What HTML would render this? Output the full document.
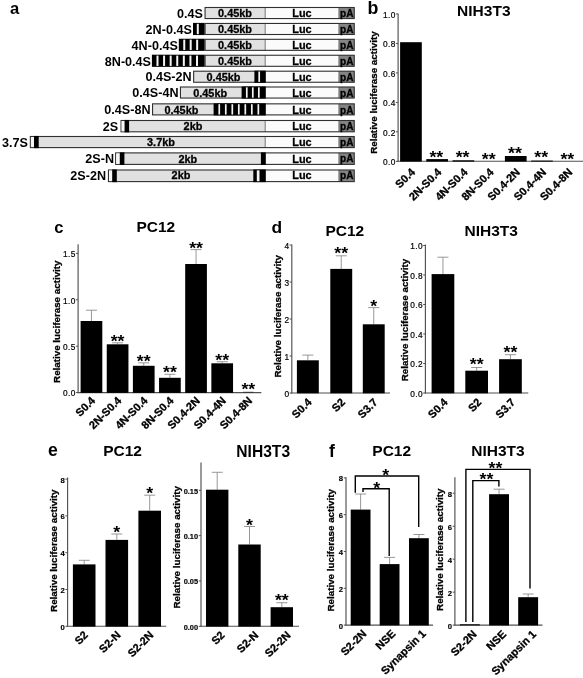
<!DOCTYPE html>
<html lang="en">
<head>
<meta charset="utf-8">
<title>Figure</title>
<style>
html, body { margin: 0; padding: 0; background: #ffffff; }
body { width: 583px; height: 678px; overflow: hidden; }
svg { display: block; }
svg text { font-family: "Liberation Sans", Arial, Helvetica, sans-serif; }
</style>
</head>
<body>
<svg width="583" height="678" viewBox="0 0 583 678">
<rect x="0" y="0" width="583" height="678" fill="#ffffff"/>
<text x="10.00" y="13.70" font-size="16.6" font-weight="bold" text-anchor="start" fill="#000">a</text>
<rect x="205.00" y="7.45" width="60.20" height="11.15" fill="#e1e1e1"/>
<rect x="265.20" y="7.45" width="73.60" height="11.15" fill="#fbfbfb"/>
<rect x="338.80" y="7.45" width="15.50" height="11.15" fill="#858585"/>
<line x1="265.20" y1="7.45" x2="265.20" y2="18.60" stroke="#555" stroke-width="0.8"/>
<line x1="338.80" y1="7.45" x2="338.80" y2="18.60" stroke="#5a5a5a" stroke-width="0.6"/>
<rect x="205.05" y="7.50" width="149.20" height="11.05" fill="none" stroke="#303030" stroke-width="1.1"/>
<text x="203.00" y="17.75" font-size="12.6" font-weight="bold" text-anchor="end" fill="#000">0.4S</text>
<text x="302.00" y="17.30" font-size="10.9" font-weight="bold" text-anchor="middle" fill="#000" stroke="#000" stroke-width="0.3">Luc</text>
<text x="346.70" y="17.15" font-size="10.3" font-weight="bold" text-anchor="middle" fill="#000" textLength="13.40" lengthAdjust="spacingAndGlyphs" stroke="#000" stroke-width="0.3">pA</text>
<text x="235.00" y="17.30" font-size="10.9" font-weight="bold" text-anchor="middle" fill="#000" stroke="#000" stroke-width="0.3">0.45kb</text>
<rect x="205.00" y="23.40" width="60.20" height="11.15" fill="#e1e1e1"/>
<rect x="265.20" y="23.40" width="73.60" height="11.15" fill="#fbfbfb"/>
<rect x="338.80" y="23.40" width="15.50" height="11.15" fill="#858585"/>
<line x1="265.20" y1="23.40" x2="265.20" y2="34.55" stroke="#555" stroke-width="0.8"/>
<line x1="338.80" y1="23.40" x2="338.80" y2="34.55" stroke="#5a5a5a" stroke-width="0.6"/>
<rect x="205.05" y="23.45" width="149.20" height="11.05" fill="none" stroke="#303030" stroke-width="1.1"/>
<rect x="193.00" y="22.90" width="11.60" height="12.15" fill="#000"/>
<rect x="196.80" y="23.80" width="2.00" height="10.35" fill="#f4f4f4"/>
<text x="191.80" y="33.70" font-size="12.6" font-weight="bold" text-anchor="end" fill="#000">2N-0.4S</text>
<text x="302.00" y="33.25" font-size="10.9" font-weight="bold" text-anchor="middle" fill="#000" stroke="#000" stroke-width="0.3">Luc</text>
<text x="346.70" y="33.10" font-size="10.3" font-weight="bold" text-anchor="middle" fill="#000" textLength="13.40" lengthAdjust="spacingAndGlyphs" stroke="#000" stroke-width="0.3">pA</text>
<text x="235.00" y="33.25" font-size="10.9" font-weight="bold" text-anchor="middle" fill="#000" stroke="#000" stroke-width="0.3">0.45kb</text>
<rect x="205.00" y="39.25" width="60.20" height="11.15" fill="#e1e1e1"/>
<rect x="265.20" y="39.25" width="73.60" height="11.15" fill="#fbfbfb"/>
<rect x="338.80" y="39.25" width="15.50" height="11.15" fill="#858585"/>
<line x1="265.20" y1="39.25" x2="265.20" y2="50.40" stroke="#555" stroke-width="0.8"/>
<line x1="338.80" y1="39.25" x2="338.80" y2="50.40" stroke="#5a5a5a" stroke-width="0.6"/>
<rect x="205.05" y="39.30" width="149.20" height="11.05" fill="none" stroke="#303030" stroke-width="1.1"/>
<rect x="178.80" y="38.75" width="25.80" height="12.15" fill="#000"/>
<rect x="183.25" y="39.65" width="2.00" height="10.35" fill="#f4f4f4"/>
<rect x="189.70" y="39.65" width="2.00" height="10.35" fill="#f4f4f4"/>
<rect x="196.15" y="39.65" width="2.00" height="10.35" fill="#f4f4f4"/>
<text x="177.80" y="49.55" font-size="12.6" font-weight="bold" text-anchor="end" fill="#000">4N-0.4S</text>
<text x="302.00" y="49.10" font-size="10.9" font-weight="bold" text-anchor="middle" fill="#000" stroke="#000" stroke-width="0.3">Luc</text>
<text x="346.70" y="48.95" font-size="10.3" font-weight="bold" text-anchor="middle" fill="#000" textLength="13.40" lengthAdjust="spacingAndGlyphs" stroke="#000" stroke-width="0.3">pA</text>
<text x="235.00" y="49.10" font-size="10.9" font-weight="bold" text-anchor="middle" fill="#000" stroke="#000" stroke-width="0.3">0.45kb</text>
<rect x="205.00" y="55.20" width="60.20" height="11.15" fill="#e1e1e1"/>
<rect x="265.20" y="55.20" width="73.60" height="11.15" fill="#fbfbfb"/>
<rect x="338.80" y="55.20" width="15.50" height="11.15" fill="#858585"/>
<line x1="265.20" y1="55.20" x2="265.20" y2="66.35" stroke="#555" stroke-width="0.8"/>
<line x1="338.80" y1="55.20" x2="338.80" y2="66.35" stroke="#5a5a5a" stroke-width="0.6"/>
<rect x="205.05" y="55.25" width="149.20" height="11.05" fill="none" stroke="#303030" stroke-width="1.1"/>
<rect x="151.90" y="54.70" width="52.70" height="12.15" fill="#000"/>
<rect x="156.49" y="55.60" width="2.00" height="10.35" fill="#f4f4f4"/>
<rect x="163.07" y="55.60" width="2.00" height="10.35" fill="#f4f4f4"/>
<rect x="169.66" y="55.60" width="2.00" height="10.35" fill="#f4f4f4"/>
<rect x="176.25" y="55.60" width="2.00" height="10.35" fill="#f4f4f4"/>
<rect x="182.84" y="55.60" width="2.00" height="10.35" fill="#f4f4f4"/>
<rect x="189.43" y="55.60" width="2.00" height="10.35" fill="#f4f4f4"/>
<rect x="196.01" y="55.60" width="2.00" height="10.35" fill="#f4f4f4"/>
<text x="151.00" y="65.50" font-size="12.6" font-weight="bold" text-anchor="end" fill="#000">8N-0.4S</text>
<text x="302.00" y="65.05" font-size="10.9" font-weight="bold" text-anchor="middle" fill="#000" stroke="#000" stroke-width="0.3">Luc</text>
<text x="346.70" y="64.90" font-size="10.3" font-weight="bold" text-anchor="middle" fill="#000" textLength="13.40" lengthAdjust="spacingAndGlyphs" stroke="#000" stroke-width="0.3">pA</text>
<text x="235.00" y="65.05" font-size="10.9" font-weight="bold" text-anchor="middle" fill="#000" stroke="#000" stroke-width="0.3">0.45kb</text>
<rect x="193.60" y="71.15" width="71.60" height="11.15" fill="#e1e1e1"/>
<rect x="265.20" y="71.15" width="73.60" height="11.15" fill="#fbfbfb"/>
<rect x="338.80" y="71.15" width="15.50" height="11.15" fill="#858585"/>
<line x1="265.20" y1="71.15" x2="265.20" y2="82.30" stroke="#555" stroke-width="0.8"/>
<line x1="338.80" y1="71.15" x2="338.80" y2="82.30" stroke="#5a5a5a" stroke-width="0.6"/>
<rect x="193.65" y="71.20" width="160.60" height="11.05" fill="none" stroke="#303030" stroke-width="1.1"/>
<rect x="254.40" y="70.65" width="11.30" height="12.15" fill="#000"/>
<rect x="258.35" y="71.55" width="1.70" height="10.35" fill="#f4f4f4"/>
<text x="191.60" y="81.45" font-size="12.6" font-weight="bold" text-anchor="end" fill="#000">0.4S-2N</text>
<text x="302.00" y="81.00" font-size="10.9" font-weight="bold" text-anchor="middle" fill="#000" stroke="#000" stroke-width="0.3">Luc</text>
<text x="346.70" y="80.85" font-size="10.3" font-weight="bold" text-anchor="middle" fill="#000" textLength="13.40" lengthAdjust="spacingAndGlyphs" stroke="#000" stroke-width="0.3">pA</text>
<text x="223.50" y="81.00" font-size="10.9" font-weight="bold" text-anchor="middle" fill="#000" stroke="#000" stroke-width="0.3">0.45kb</text>
<rect x="180.40" y="86.95" width="84.80" height="11.15" fill="#e1e1e1"/>
<rect x="265.20" y="86.95" width="73.60" height="11.15" fill="#fbfbfb"/>
<rect x="338.80" y="86.95" width="15.50" height="11.15" fill="#858585"/>
<line x1="265.20" y1="86.95" x2="265.20" y2="98.10" stroke="#555" stroke-width="0.8"/>
<line x1="338.80" y1="86.95" x2="338.80" y2="98.10" stroke="#5a5a5a" stroke-width="0.6"/>
<rect x="180.45" y="87.00" width="173.80" height="11.05" fill="none" stroke="#303030" stroke-width="1.1"/>
<rect x="241.60" y="86.45" width="24.10" height="12.15" fill="#000"/>
<rect x="245.93" y="87.35" width="1.70" height="10.35" fill="#f4f4f4"/>
<rect x="251.95" y="87.35" width="1.70" height="10.35" fill="#f4f4f4"/>
<rect x="257.98" y="87.35" width="1.70" height="10.35" fill="#f4f4f4"/>
<text x="178.50" y="97.25" font-size="12.6" font-weight="bold" text-anchor="end" fill="#000">0.4S-4N</text>
<text x="302.00" y="96.80" font-size="10.9" font-weight="bold" text-anchor="middle" fill="#000" stroke="#000" stroke-width="0.3">Luc</text>
<text x="346.70" y="96.65" font-size="10.3" font-weight="bold" text-anchor="middle" fill="#000" textLength="13.40" lengthAdjust="spacingAndGlyphs" stroke="#000" stroke-width="0.3">pA</text>
<text x="210.20" y="96.80" font-size="10.9" font-weight="bold" text-anchor="middle" fill="#000" stroke="#000" stroke-width="0.3">0.45kb</text>
<rect x="152.50" y="103.80" width="112.70" height="11.15" fill="#e1e1e1"/>
<rect x="265.20" y="103.80" width="73.60" height="11.15" fill="#fbfbfb"/>
<rect x="338.80" y="103.80" width="15.50" height="11.15" fill="#858585"/>
<line x1="265.20" y1="103.80" x2="265.20" y2="114.95" stroke="#555" stroke-width="0.8"/>
<line x1="338.80" y1="103.80" x2="338.80" y2="114.95" stroke="#5a5a5a" stroke-width="0.6"/>
<rect x="152.55" y="103.85" width="201.70" height="11.05" fill="none" stroke="#303030" stroke-width="1.1"/>
<rect x="213.60" y="103.30" width="52.10" height="12.15" fill="#000"/>
<rect x="218.41" y="104.20" width="1.70" height="10.35" fill="#f4f4f4"/>
<rect x="224.93" y="104.20" width="1.70" height="10.35" fill="#f4f4f4"/>
<rect x="231.44" y="104.20" width="1.70" height="10.35" fill="#f4f4f4"/>
<rect x="237.95" y="104.20" width="1.70" height="10.35" fill="#f4f4f4"/>
<rect x="244.46" y="104.20" width="1.70" height="10.35" fill="#f4f4f4"/>
<rect x="250.97" y="104.20" width="1.70" height="10.35" fill="#f4f4f4"/>
<rect x="257.49" y="104.20" width="1.70" height="10.35" fill="#f4f4f4"/>
<text x="150.50" y="114.10" font-size="12.6" font-weight="bold" text-anchor="end" fill="#000">0.4S-8N</text>
<text x="302.00" y="113.65" font-size="10.9" font-weight="bold" text-anchor="middle" fill="#000" stroke="#000" stroke-width="0.3">Luc</text>
<text x="346.70" y="113.50" font-size="10.3" font-weight="bold" text-anchor="middle" fill="#000" textLength="13.40" lengthAdjust="spacingAndGlyphs" stroke="#000" stroke-width="0.3">pA</text>
<text x="181.40" y="113.65" font-size="10.9" font-weight="bold" text-anchor="middle" fill="#000" stroke="#000" stroke-width="0.3">0.45kb</text>
<rect x="121.00" y="120.45" width="144.20" height="11.40" fill="#e1e1e1"/>
<rect x="265.20" y="120.45" width="73.60" height="11.40" fill="#fbfbfb"/>
<rect x="338.80" y="120.45" width="15.50" height="11.40" fill="#858585"/>
<line x1="265.20" y1="120.45" x2="265.20" y2="131.85" stroke="#555" stroke-width="0.8"/>
<line x1="338.80" y1="120.45" x2="338.80" y2="131.85" stroke="#5a5a5a" stroke-width="0.6"/>
<rect x="121.05" y="120.50" width="233.20" height="11.30" fill="none" stroke="#303030" stroke-width="1.1"/>
<rect x="121.60" y="121.05" width="3.00" height="10.20" fill="#f6f6f6"/>
<rect x="124.60" y="119.95" width="4.50" height="12.40" fill="#000"/>
<text x="118.20" y="130.75" font-size="12.6" font-weight="bold" text-anchor="end" fill="#000">2S</text>
<text x="302.00" y="130.30" font-size="10.9" font-weight="bold" text-anchor="middle" fill="#000" stroke="#000" stroke-width="0.3">Luc</text>
<text x="346.70" y="130.15" font-size="10.3" font-weight="bold" text-anchor="middle" fill="#000" textLength="13.40" lengthAdjust="spacingAndGlyphs" stroke="#000" stroke-width="0.3">pA</text>
<text x="193.00" y="130.30" font-size="10.9" font-weight="bold" text-anchor="middle" fill="#000" stroke="#000" stroke-width="0.3">2kb</text>
<rect x="30.30" y="136.45" width="234.90" height="11.20" fill="#e1e1e1"/>
<rect x="265.20" y="136.45" width="73.60" height="11.20" fill="#fbfbfb"/>
<rect x="338.80" y="136.45" width="15.50" height="11.20" fill="#858585"/>
<line x1="265.20" y1="136.45" x2="265.20" y2="147.65" stroke="#555" stroke-width="0.8"/>
<line x1="338.80" y1="136.45" x2="338.80" y2="147.65" stroke="#5a5a5a" stroke-width="0.6"/>
<rect x="30.35" y="136.50" width="323.90" height="11.10" fill="none" stroke="#303030" stroke-width="1.1"/>
<rect x="30.90" y="137.05" width="3.10" height="10.00" fill="#f6f6f6"/>
<rect x="34.00" y="135.95" width="4.70" height="12.20" fill="#000"/>
<text x="28.00" y="146.75" font-size="12.6" font-weight="bold" text-anchor="end" fill="#000">3.7S</text>
<text x="302.00" y="146.30" font-size="10.9" font-weight="bold" text-anchor="middle" fill="#000" stroke="#000" stroke-width="0.3">Luc</text>
<text x="346.70" y="146.15" font-size="10.3" font-weight="bold" text-anchor="middle" fill="#000" textLength="13.40" lengthAdjust="spacingAndGlyphs" stroke="#000" stroke-width="0.3">pA</text>
<text x="161.00" y="146.30" font-size="10.9" font-weight="bold" text-anchor="middle" fill="#000" stroke="#000" stroke-width="0.3">3.7kb</text>
<rect x="115.60" y="152.85" width="149.60" height="11.60" fill="#e1e1e1"/>
<rect x="265.20" y="152.85" width="73.60" height="11.60" fill="#fbfbfb"/>
<rect x="338.80" y="152.85" width="15.50" height="11.60" fill="#858585"/>
<line x1="265.20" y1="152.85" x2="265.20" y2="164.45" stroke="#555" stroke-width="0.8"/>
<line x1="338.80" y1="152.85" x2="338.80" y2="164.45" stroke="#5a5a5a" stroke-width="0.6"/>
<rect x="115.65" y="152.90" width="238.60" height="11.50" fill="none" stroke="#303030" stroke-width="1.1"/>
<rect x="116.20" y="153.45" width="3.60" height="10.40" fill="#f6f6f6"/>
<rect x="119.80" y="152.35" width="4.60" height="12.60" fill="#000"/>
<rect x="260.90" y="152.35" width="4.80" height="12.60" fill="#000"/>
<text x="114.00" y="163.05" font-size="12.6" font-weight="bold" text-anchor="end" fill="#000">2S-N</text>
<text x="302.00" y="162.60" font-size="10.9" font-weight="bold" text-anchor="middle" fill="#000" stroke="#000" stroke-width="0.3">Luc</text>
<text x="346.70" y="162.45" font-size="10.3" font-weight="bold" text-anchor="middle" fill="#000" textLength="13.40" lengthAdjust="spacingAndGlyphs" stroke="#000" stroke-width="0.3">pA</text>
<text x="187.80" y="162.60" font-size="10.9" font-weight="bold" text-anchor="middle" fill="#000" stroke="#000" stroke-width="0.3">2kb</text>
<rect x="108.40" y="169.95" width="156.80" height="11.70" fill="#e1e1e1"/>
<rect x="265.20" y="169.95" width="73.60" height="11.70" fill="#fbfbfb"/>
<rect x="338.80" y="169.95" width="15.50" height="11.70" fill="#858585"/>
<line x1="265.20" y1="169.95" x2="265.20" y2="181.65" stroke="#555" stroke-width="0.8"/>
<line x1="338.80" y1="169.95" x2="338.80" y2="181.65" stroke="#5a5a5a" stroke-width="0.6"/>
<rect x="108.45" y="170.00" width="245.80" height="11.60" fill="none" stroke="#303030" stroke-width="1.1"/>
<rect x="109.00" y="170.55" width="3.20" height="10.50" fill="#f6f6f6"/>
<rect x="112.20" y="169.45" width="4.60" height="12.70" fill="#000"/>
<rect x="253.30" y="169.45" width="12.40" height="12.70" fill="#000"/>
<rect x="256.80" y="170.35" width="2.70" height="10.90" fill="#f4f4f4"/>
<text x="106.00" y="179.85" font-size="12.6" font-weight="bold" text-anchor="end" fill="#000">2S-2N</text>
<text x="302.00" y="179.40" font-size="10.9" font-weight="bold" text-anchor="middle" fill="#000" stroke="#000" stroke-width="0.3">Luc</text>
<text x="346.70" y="179.25" font-size="10.3" font-weight="bold" text-anchor="middle" fill="#000" textLength="13.40" lengthAdjust="spacingAndGlyphs" stroke="#000" stroke-width="0.3">pA</text>
<text x="181.00" y="179.40" font-size="10.9" font-weight="bold" text-anchor="middle" fill="#000" stroke="#000" stroke-width="0.3">2kb</text>
<text x="367.40" y="13.80" font-size="17.8" font-weight="bold" text-anchor="start" fill="#000">b</text>
<text x="483.80" y="16.10" font-size="15.5" font-weight="bold" text-anchor="middle" fill="#000">NIH3T3</text>
<line x1="398.10" y1="13.40" x2="398.10" y2="161.80" stroke="#505050" stroke-width="1.15"/>
<line x1="397.60" y1="161.30" x2="583.00" y2="161.30" stroke="#505050" stroke-width="1.1"/>
<line x1="395.90" y1="161.30" x2="398.10" y2="161.30" stroke="#505050" stroke-width="1"/>
<text x="395.85" y="165.10" font-size="8.3" font-weight="normal" text-anchor="end" fill="#000" letter-spacing="0.45" stroke="#000" stroke-width="0.2">0.0</text>
<line x1="395.90" y1="131.84" x2="398.10" y2="131.84" stroke="#505050" stroke-width="1"/>
<text x="395.85" y="135.64" font-size="8.3" font-weight="normal" text-anchor="end" fill="#000" letter-spacing="0.45" stroke="#000" stroke-width="0.2">0.2</text>
<line x1="395.90" y1="102.38" x2="398.10" y2="102.38" stroke="#505050" stroke-width="1"/>
<text x="395.85" y="106.18" font-size="8.3" font-weight="normal" text-anchor="end" fill="#000" letter-spacing="0.45" stroke="#000" stroke-width="0.2">0.4</text>
<line x1="395.90" y1="72.92" x2="398.10" y2="72.92" stroke="#505050" stroke-width="1"/>
<text x="395.85" y="76.72" font-size="8.3" font-weight="normal" text-anchor="end" fill="#000" letter-spacing="0.45" stroke="#000" stroke-width="0.2">0.6</text>
<line x1="395.90" y1="43.46" x2="398.10" y2="43.46" stroke="#505050" stroke-width="1"/>
<text x="395.85" y="47.26" font-size="8.3" font-weight="normal" text-anchor="end" fill="#000" letter-spacing="0.45" stroke="#000" stroke-width="0.2">0.8</text>
<line x1="395.90" y1="14.00" x2="398.10" y2="14.00" stroke="#505050" stroke-width="1"/>
<text x="395.85" y="17.80" font-size="8.3" font-weight="normal" text-anchor="end" fill="#000" letter-spacing="0.45" stroke="#000" stroke-width="0.2">1.0</text>
<rect x="400.10" y="42.20" width="21.70" height="119.40" fill="#000"/>
<text x="0" y="0" transform="translate(415.85 172.80) rotate(-45)" font-size="11.0" font-weight="bold" text-anchor="end" fill="#000" stroke="#000" stroke-width="0.3">S0.4</text>
<rect x="426.30" y="159.10" width="21.70" height="2.50" fill="#000"/>
<text transform="translate(436.35 162.80) scale(1 0.9)" x="0" y="0" font-size="17.8" font-weight="bold" text-anchor="middle" fill="#000">**</text>
<text x="0" y="0" transform="translate(442.05 172.80) rotate(-45)" font-size="11.0" font-weight="bold" text-anchor="end" fill="#000" stroke="#000" stroke-width="0.3">2N-S0.4</text>
<rect x="452.50" y="160.30" width="21.70" height="1.30" fill="#000"/>
<text transform="translate(462.55 162.80) scale(1 0.9)" x="0" y="0" font-size="17.8" font-weight="bold" text-anchor="middle" fill="#000">**</text>
<text x="0" y="0" transform="translate(468.25 172.80) rotate(-45)" font-size="11.0" font-weight="bold" text-anchor="end" fill="#000" stroke="#000" stroke-width="0.3">4N-S0.4</text>
<text transform="translate(488.75 164.50) scale(1 0.9)" x="0" y="0" font-size="17.8" font-weight="bold" text-anchor="middle" fill="#000">**</text>
<text x="0" y="0" transform="translate(494.45 172.80) rotate(-45)" font-size="11.0" font-weight="bold" text-anchor="end" fill="#000" stroke="#000" stroke-width="0.3">8N-S0.4</text>
<rect x="504.90" y="156.00" width="21.70" height="5.60" fill="#000"/>
<text transform="translate(514.95 158.70) scale(1 0.9)" x="0" y="0" font-size="17.8" font-weight="bold" text-anchor="middle" fill="#000">**</text>
<text x="0" y="0" transform="translate(520.65 172.80) rotate(-45)" font-size="11.0" font-weight="bold" text-anchor="end" fill="#000" stroke="#000" stroke-width="0.3">S0.4-2N</text>
<rect x="531.10" y="160.60" width="21.70" height="1.00" fill="#000"/>
<text transform="translate(541.15 163.20) scale(1 0.9)" x="0" y="0" font-size="17.8" font-weight="bold" text-anchor="middle" fill="#000">**</text>
<text x="0" y="0" transform="translate(546.85 172.80) rotate(-45)" font-size="11.0" font-weight="bold" text-anchor="end" fill="#000" stroke="#000" stroke-width="0.3">S0.4-4N</text>
<text transform="translate(567.35 164.50) scale(1 0.9)" x="0" y="0" font-size="17.8" font-weight="bold" text-anchor="middle" fill="#000">**</text>
<text x="0" y="0" transform="translate(573.05 172.80) rotate(-45)" font-size="11.0" font-weight="bold" text-anchor="end" fill="#000" stroke="#000" stroke-width="0.3">S0.4-8N</text>
<text x="0" y="0" transform="translate(377.30 153.80) rotate(-90)" font-size="9.85" font-weight="bold" text-anchor="start" fill="#000" textLength="122.40" lengthAdjust="spacingAndGlyphs" stroke="#000" stroke-width="0.3">Relative luciferase activity</text>
<text x="54.20" y="233.40" font-size="16.6" font-weight="bold" text-anchor="start" fill="#000">c</text>
<text x="155.80" y="231.90" font-size="15.5" font-weight="bold" text-anchor="middle" fill="#000">PC12</text>
<line x1="78.10" y1="244.30" x2="78.10" y2="393.10" stroke="#505050" stroke-width="1.15"/>
<line x1="77.60" y1="392.60" x2="261.30" y2="392.60" stroke="#505050" stroke-width="1.1"/>
<line x1="75.90" y1="392.60" x2="78.10" y2="392.60" stroke="#505050" stroke-width="1"/>
<text x="75.85" y="396.40" font-size="8.3" font-weight="normal" text-anchor="end" fill="#000" letter-spacing="0.45" stroke="#000" stroke-width="0.2">0.0</text>
<line x1="75.90" y1="346.20" x2="78.10" y2="346.20" stroke="#505050" stroke-width="1"/>
<text x="75.85" y="350.00" font-size="8.3" font-weight="normal" text-anchor="end" fill="#000" letter-spacing="0.45" stroke="#000" stroke-width="0.2">0.5</text>
<line x1="75.90" y1="299.80" x2="78.10" y2="299.80" stroke="#505050" stroke-width="1"/>
<text x="75.85" y="303.60" font-size="8.3" font-weight="normal" text-anchor="end" fill="#000" letter-spacing="0.45" stroke="#000" stroke-width="0.2">1.0</text>
<line x1="75.90" y1="253.40" x2="78.10" y2="253.40" stroke="#505050" stroke-width="1"/>
<text x="75.85" y="257.20" font-size="8.3" font-weight="normal" text-anchor="end" fill="#000" letter-spacing="0.45" stroke="#000" stroke-width="0.2">1.5</text>
<line x1="91.45" y1="310.20" x2="91.45" y2="321.00" stroke="#858585" stroke-width="0.85"/>
<line x1="85.95" y1="310.20" x2="96.95" y2="310.20" stroke="#858585" stroke-width="0.85"/>
<rect x="80.60" y="321.00" width="21.70" height="71.90" fill="#000"/>
<text x="0" y="0" transform="translate(95.95 401.30) rotate(-45)" font-size="11.0" font-weight="bold" text-anchor="end" fill="#000" stroke="#000" stroke-width="0.3">S0.4</text>
<line x1="117.60" y1="342.80" x2="117.60" y2="344.30" stroke="#858585" stroke-width="0.85"/>
<line x1="112.10" y1="342.80" x2="123.10" y2="342.80" stroke="#858585" stroke-width="0.85"/>
<rect x="106.75" y="344.30" width="21.70" height="48.60" fill="#000"/>
<text transform="translate(117.60 346.80) scale(1 0.9)" x="0" y="0" font-size="17.8" font-weight="bold" text-anchor="middle" fill="#000">**</text>
<text x="0" y="0" transform="translate(122.10 401.30) rotate(-45)" font-size="11.0" font-weight="bold" text-anchor="end" fill="#000" stroke="#000" stroke-width="0.3">2N-S0.4</text>
<line x1="143.75" y1="362.80" x2="143.75" y2="365.80" stroke="#858585" stroke-width="0.85"/>
<line x1="138.25" y1="362.80" x2="149.25" y2="362.80" stroke="#858585" stroke-width="0.85"/>
<rect x="132.90" y="365.80" width="21.70" height="27.10" fill="#000"/>
<text transform="translate(143.75 367.40) scale(1 0.9)" x="0" y="0" font-size="17.8" font-weight="bold" text-anchor="middle" fill="#000">**</text>
<text x="0" y="0" transform="translate(148.25 401.30) rotate(-45)" font-size="11.0" font-weight="bold" text-anchor="end" fill="#000" stroke="#000" stroke-width="0.3">4N-S0.4</text>
<line x1="169.90" y1="374.30" x2="169.90" y2="377.80" stroke="#858585" stroke-width="0.85"/>
<line x1="164.40" y1="374.30" x2="175.40" y2="374.30" stroke="#858585" stroke-width="0.85"/>
<rect x="159.05" y="377.80" width="21.70" height="15.10" fill="#000"/>
<text transform="translate(169.90 378.40) scale(1 0.9)" x="0" y="0" font-size="17.8" font-weight="bold" text-anchor="middle" fill="#000">**</text>
<text x="0" y="0" transform="translate(174.40 401.30) rotate(-45)" font-size="11.0" font-weight="bold" text-anchor="end" fill="#000" stroke="#000" stroke-width="0.3">8N-S0.4</text>
<line x1="196.05" y1="249.60" x2="196.05" y2="264.00" stroke="#858585" stroke-width="0.85"/>
<line x1="190.55" y1="249.60" x2="201.55" y2="249.60" stroke="#858585" stroke-width="0.85"/>
<rect x="185.20" y="264.00" width="21.70" height="128.90" fill="#000"/>
<text transform="translate(196.05 254.20) scale(1 0.9)" x="0" y="0" font-size="17.8" font-weight="bold" text-anchor="middle" fill="#000">**</text>
<text x="0" y="0" transform="translate(200.55 401.30) rotate(-45)" font-size="11.0" font-weight="bold" text-anchor="end" fill="#000" stroke="#000" stroke-width="0.3">S0.4-2N</text>
<line x1="222.20" y1="361.70" x2="222.20" y2="363.30" stroke="#858585" stroke-width="0.85"/>
<line x1="216.70" y1="361.70" x2="227.70" y2="361.70" stroke="#858585" stroke-width="0.85"/>
<rect x="211.35" y="363.30" width="21.70" height="29.60" fill="#000"/>
<text transform="translate(222.20 365.70) scale(1 0.9)" x="0" y="0" font-size="17.8" font-weight="bold" text-anchor="middle" fill="#000">**</text>
<text x="0" y="0" transform="translate(226.70 401.30) rotate(-45)" font-size="11.0" font-weight="bold" text-anchor="end" fill="#000" stroke="#000" stroke-width="0.3">S0.4-4N</text>
<text transform="translate(248.35 395.30) scale(1 0.9)" x="0" y="0" font-size="17.8" font-weight="bold" text-anchor="middle" fill="#000">**</text>
<text x="0" y="0" transform="translate(252.85 401.30) rotate(-45)" font-size="11.0" font-weight="bold" text-anchor="end" fill="#000" stroke="#000" stroke-width="0.3">S0.4-8N</text>
<line x1="243.00" y1="392.30" x2="253.40" y2="392.30" stroke="#333" stroke-width="1.0"/>
<text x="0" y="0" transform="translate(59.80 382.90) rotate(-90)" font-size="9.85" font-weight="bold" text-anchor="start" fill="#000" textLength="122.40" lengthAdjust="spacingAndGlyphs" stroke="#000" stroke-width="0.3">Relative luciferase activity</text>
<text x="271.40" y="232.90" font-size="17.4" font-weight="bold" text-anchor="start" fill="#000">d</text>
<text x="344.80" y="235.50" font-size="15.5" font-weight="bold" text-anchor="middle" fill="#000">PC12</text>
<line x1="291.80" y1="244.40" x2="291.80" y2="393.50" stroke="#505050" stroke-width="1.15"/>
<line x1="291.30" y1="393.00" x2="390.00" y2="393.00" stroke="#505050" stroke-width="1.1"/>
<line x1="289.60" y1="393.00" x2="291.80" y2="393.00" stroke="#505050" stroke-width="1"/>
<text x="289.55" y="396.80" font-size="8.3" font-weight="normal" text-anchor="end" fill="#000" letter-spacing="0.45" stroke="#000" stroke-width="0.2">0</text>
<line x1="289.60" y1="356.00" x2="291.80" y2="356.00" stroke="#505050" stroke-width="1"/>
<text x="289.55" y="359.80" font-size="8.3" font-weight="normal" text-anchor="end" fill="#000" letter-spacing="0.45" stroke="#000" stroke-width="0.2">1</text>
<line x1="289.60" y1="319.00" x2="291.80" y2="319.00" stroke="#505050" stroke-width="1"/>
<text x="289.55" y="322.80" font-size="8.3" font-weight="normal" text-anchor="end" fill="#000" letter-spacing="0.45" stroke="#000" stroke-width="0.2">2</text>
<line x1="289.60" y1="282.00" x2="291.80" y2="282.00" stroke="#505050" stroke-width="1"/>
<text x="289.55" y="285.80" font-size="8.3" font-weight="normal" text-anchor="end" fill="#000" letter-spacing="0.45" stroke="#000" stroke-width="0.2">3</text>
<line x1="289.60" y1="245.00" x2="291.80" y2="245.00" stroke="#505050" stroke-width="1"/>
<text x="289.55" y="248.80" font-size="8.3" font-weight="normal" text-anchor="end" fill="#000" letter-spacing="0.45" stroke="#000" stroke-width="0.2">4</text>
<line x1="307.85" y1="355.10" x2="307.85" y2="360.30" stroke="#858585" stroke-width="0.85"/>
<line x1="302.35" y1="355.10" x2="313.35" y2="355.10" stroke="#858585" stroke-width="0.85"/>
<rect x="296.90" y="360.30" width="21.90" height="33.00" fill="#000"/>
<text x="0" y="0" transform="translate(312.35 402.90) rotate(-45)" font-size="11.0" font-weight="bold" text-anchor="end" fill="#000" stroke="#000" stroke-width="0.3">S0.4</text>
<line x1="341.25" y1="255.80" x2="341.25" y2="268.90" stroke="#858585" stroke-width="0.85"/>
<line x1="335.75" y1="255.80" x2="346.75" y2="255.80" stroke="#858585" stroke-width="0.85"/>
<rect x="330.30" y="268.90" width="21.90" height="124.40" fill="#000"/>
<text transform="translate(341.25 258.80) scale(1 0.9)" x="0" y="0" font-size="17.8" font-weight="bold" text-anchor="middle" fill="#000">**</text>
<text x="0" y="0" transform="translate(345.75 402.90) rotate(-45)" font-size="11.0" font-weight="bold" text-anchor="end" fill="#000" stroke="#000" stroke-width="0.3">S2</text>
<line x1="373.75" y1="307.60" x2="373.75" y2="324.30" stroke="#858585" stroke-width="0.85"/>
<line x1="368.25" y1="307.60" x2="379.25" y2="307.60" stroke="#858585" stroke-width="0.85"/>
<rect x="362.80" y="324.30" width="21.90" height="69.00" fill="#000"/>
<text transform="translate(373.75 311.80) scale(1 0.9)" x="0" y="0" font-size="17.8" font-weight="bold" text-anchor="middle" fill="#000">*</text>
<text x="0" y="0" transform="translate(378.25 402.90) rotate(-45)" font-size="11.0" font-weight="bold" text-anchor="end" fill="#000" stroke="#000" stroke-width="0.3">S3.7</text>
<text x="0" y="0" transform="translate(280.50 377.50) rotate(-90)" font-size="9.85" font-weight="bold" text-anchor="start" fill="#000" textLength="122.40" lengthAdjust="spacingAndGlyphs" stroke="#000" stroke-width="0.3">Relative luciferase activity</text>
<text x="491.20" y="235.60" font-size="15.5" font-weight="bold" text-anchor="middle" fill="#000">NIH3T3</text>
<line x1="425.40" y1="244.40" x2="425.40" y2="393.50" stroke="#505050" stroke-width="1.15"/>
<line x1="424.90" y1="393.00" x2="528.30" y2="393.00" stroke="#505050" stroke-width="1.1"/>
<line x1="423.20" y1="393.00" x2="425.40" y2="393.00" stroke="#505050" stroke-width="1"/>
<text x="423.15" y="396.80" font-size="8.3" font-weight="normal" text-anchor="end" fill="#000" letter-spacing="0.45" stroke="#000" stroke-width="0.2">0.0</text>
<line x1="423.20" y1="363.50" x2="425.40" y2="363.50" stroke="#505050" stroke-width="1"/>
<text x="423.15" y="367.30" font-size="8.3" font-weight="normal" text-anchor="end" fill="#000" letter-spacing="0.45" stroke="#000" stroke-width="0.2">0.2</text>
<line x1="423.20" y1="334.00" x2="425.40" y2="334.00" stroke="#505050" stroke-width="1"/>
<text x="423.15" y="337.80" font-size="8.3" font-weight="normal" text-anchor="end" fill="#000" letter-spacing="0.45" stroke="#000" stroke-width="0.2">0.4</text>
<line x1="423.20" y1="304.50" x2="425.40" y2="304.50" stroke="#505050" stroke-width="1"/>
<text x="423.15" y="308.30" font-size="8.3" font-weight="normal" text-anchor="end" fill="#000" letter-spacing="0.45" stroke="#000" stroke-width="0.2">0.6</text>
<line x1="423.20" y1="275.00" x2="425.40" y2="275.00" stroke="#505050" stroke-width="1"/>
<text x="423.15" y="278.80" font-size="8.3" font-weight="normal" text-anchor="end" fill="#000" letter-spacing="0.45" stroke="#000" stroke-width="0.2">0.8</text>
<line x1="423.20" y1="245.50" x2="425.40" y2="245.50" stroke="#505050" stroke-width="1"/>
<text x="423.15" y="249.30" font-size="8.3" font-weight="normal" text-anchor="end" fill="#000" letter-spacing="0.45" stroke="#000" stroke-width="0.2">1.0</text>
<line x1="442.95" y1="257.20" x2="442.95" y2="274.10" stroke="#858585" stroke-width="0.85"/>
<line x1="437.45" y1="257.20" x2="448.45" y2="257.20" stroke="#858585" stroke-width="0.85"/>
<rect x="431.60" y="274.10" width="22.70" height="119.20" fill="#000"/>
<text x="0" y="0" transform="translate(448.45 403.00) rotate(-45)" font-size="11.0" font-weight="bold" text-anchor="end" fill="#000" stroke="#000" stroke-width="0.3">S0.4</text>
<line x1="476.65" y1="367.50" x2="476.65" y2="370.70" stroke="#858585" stroke-width="0.85"/>
<line x1="471.15" y1="367.50" x2="482.15" y2="367.50" stroke="#858585" stroke-width="0.85"/>
<rect x="465.30" y="370.70" width="22.70" height="22.60" fill="#000"/>
<text transform="translate(476.65 370.40) scale(1 0.9)" x="0" y="0" font-size="17.8" font-weight="bold" text-anchor="middle" fill="#000">**</text>
<text x="0" y="0" transform="translate(482.15 403.00) rotate(-45)" font-size="11.0" font-weight="bold" text-anchor="end" fill="#000" stroke="#000" stroke-width="0.3">S2</text>
<line x1="510.45" y1="354.70" x2="510.45" y2="359.20" stroke="#858585" stroke-width="0.85"/>
<line x1="504.95" y1="354.70" x2="515.95" y2="354.70" stroke="#858585" stroke-width="0.85"/>
<rect x="499.10" y="359.20" width="22.70" height="34.10" fill="#000"/>
<text transform="translate(510.45 357.60) scale(1 0.9)" x="0" y="0" font-size="17.8" font-weight="bold" text-anchor="middle" fill="#000">**</text>
<text x="0" y="0" transform="translate(515.95 403.00) rotate(-45)" font-size="11.0" font-weight="bold" text-anchor="end" fill="#000" stroke="#000" stroke-width="0.3">S3.7</text>
<text x="0" y="0" transform="translate(407.70 381.20) rotate(-90)" font-size="9.85" font-weight="bold" text-anchor="start" fill="#000" textLength="122.40" lengthAdjust="spacingAndGlyphs" stroke="#000" stroke-width="0.3">Relative luciferase activity</text>
<text x="47.90" y="456.20" font-size="17.6" font-weight="bold" text-anchor="start" fill="#000">e</text>
<text x="122.60" y="456.00" font-size="15.5" font-weight="bold" text-anchor="middle" fill="#000">PC12</text>
<line x1="67.60" y1="477.60" x2="67.60" y2="626.80" stroke="#505050" stroke-width="1.15"/>
<line x1="67.10" y1="626.30" x2="166.20" y2="626.30" stroke="#505050" stroke-width="1.1"/>
<line x1="65.40" y1="626.30" x2="67.60" y2="626.30" stroke="#505050" stroke-width="1"/>
<text x="64.70" y="629.70" font-size="7.700000000000001" font-weight="bold" text-anchor="end" fill="#000" stroke="#000" stroke-width="0.15">0</text>
<line x1="65.40" y1="589.50" x2="67.60" y2="589.50" stroke="#505050" stroke-width="1"/>
<text x="64.70" y="592.90" font-size="7.700000000000001" font-weight="bold" text-anchor="end" fill="#000" stroke="#000" stroke-width="0.15">2</text>
<line x1="65.40" y1="552.70" x2="67.60" y2="552.70" stroke="#505050" stroke-width="1"/>
<text x="64.70" y="556.10" font-size="7.700000000000001" font-weight="bold" text-anchor="end" fill="#000" stroke="#000" stroke-width="0.15">4</text>
<line x1="65.40" y1="515.90" x2="67.60" y2="515.90" stroke="#505050" stroke-width="1"/>
<text x="64.70" y="519.30" font-size="7.700000000000001" font-weight="bold" text-anchor="end" fill="#000" stroke="#000" stroke-width="0.15">6</text>
<line x1="65.40" y1="479.10" x2="67.60" y2="479.10" stroke="#505050" stroke-width="1"/>
<text x="64.70" y="482.50" font-size="7.700000000000001" font-weight="bold" text-anchor="end" fill="#000" stroke="#000" stroke-width="0.15">8</text>
<line x1="84.20" y1="560.30" x2="84.20" y2="564.40" stroke="#858585" stroke-width="0.85"/>
<line x1="78.70" y1="560.30" x2="89.70" y2="560.30" stroke="#858585" stroke-width="0.85"/>
<rect x="72.90" y="564.40" width="22.60" height="62.20" fill="#000"/>
<text x="0" y="0" transform="translate(88.70 635.70) rotate(-45)" font-size="11.0" font-weight="bold" text-anchor="end" fill="#000" stroke="#000" stroke-width="0.3">S2</text>
<line x1="116.80" y1="534.00" x2="116.80" y2="539.90" stroke="#858585" stroke-width="0.85"/>
<line x1="111.30" y1="534.00" x2="122.30" y2="534.00" stroke="#858585" stroke-width="0.85"/>
<rect x="105.50" y="539.90" width="22.60" height="86.70" fill="#000"/>
<text transform="translate(116.80 538.20) scale(1 0.9)" x="0" y="0" font-size="17.8" font-weight="bold" text-anchor="middle" fill="#000">*</text>
<text x="0" y="0" transform="translate(121.30 635.70) rotate(-45)" font-size="11.0" font-weight="bold" text-anchor="end" fill="#000" stroke="#000" stroke-width="0.3">S2-N</text>
<line x1="149.70" y1="495.20" x2="149.70" y2="510.70" stroke="#858585" stroke-width="0.85"/>
<line x1="144.20" y1="495.20" x2="155.20" y2="495.20" stroke="#858585" stroke-width="0.85"/>
<rect x="138.40" y="510.70" width="22.60" height="115.90" fill="#000"/>
<text transform="translate(149.70 499.40) scale(1 0.9)" x="0" y="0" font-size="17.8" font-weight="bold" text-anchor="middle" fill="#000">*</text>
<text x="0" y="0" transform="translate(154.20 635.70) rotate(-45)" font-size="11.0" font-weight="bold" text-anchor="end" fill="#000" stroke="#000" stroke-width="0.3">S2-2N</text>
<text x="0" y="0" transform="translate(56.50 611.90) rotate(-90)" font-size="9.85" font-weight="bold" text-anchor="start" fill="#000" textLength="122.40" lengthAdjust="spacingAndGlyphs" stroke="#000" stroke-width="0.3">Relative luciferase activity</text>
<text x="263.20" y="456.80" font-size="15.6" font-weight="bold" text-anchor="middle" fill="#000">NIH3T3</text>
<line x1="201.00" y1="462.40" x2="201.00" y2="626.80" stroke="#505050" stroke-width="1.15"/>
<line x1="200.50" y1="626.30" x2="299.00" y2="626.30" stroke="#505050" stroke-width="1.1"/>
<line x1="198.80" y1="626.30" x2="201.00" y2="626.30" stroke="#505050" stroke-width="1"/>
<text x="198.10" y="629.70" font-size="7.4" font-weight="bold" text-anchor="end" fill="#000" stroke="#000" stroke-width="0.15">0.00</text>
<line x1="198.80" y1="580.97" x2="201.00" y2="580.97" stroke="#505050" stroke-width="1"/>
<text x="198.10" y="584.37" font-size="7.4" font-weight="bold" text-anchor="end" fill="#000" stroke="#000" stroke-width="0.15">0.05</text>
<line x1="198.80" y1="535.64" x2="201.00" y2="535.64" stroke="#505050" stroke-width="1"/>
<text x="198.10" y="539.04" font-size="7.4" font-weight="bold" text-anchor="end" fill="#000" stroke="#000" stroke-width="0.15">0.10</text>
<line x1="198.80" y1="490.31" x2="201.00" y2="490.31" stroke="#505050" stroke-width="1"/>
<text x="198.10" y="493.71" font-size="7.4" font-weight="bold" text-anchor="end" fill="#000" stroke="#000" stroke-width="0.15">0.15</text>
<line x1="217.20" y1="472.30" x2="217.20" y2="489.70" stroke="#858585" stroke-width="0.85"/>
<line x1="211.70" y1="472.30" x2="222.70" y2="472.30" stroke="#858585" stroke-width="0.85"/>
<rect x="206.00" y="489.70" width="22.40" height="136.90" fill="#000"/>
<text x="0" y="0" transform="translate(225.40 635.80) rotate(-45)" font-size="11.0" font-weight="bold" text-anchor="end" fill="#000" stroke="#000" stroke-width="0.3">S2</text>
<line x1="249.50" y1="526.50" x2="249.50" y2="544.50" stroke="#858585" stroke-width="0.85"/>
<line x1="244.00" y1="526.50" x2="255.00" y2="526.50" stroke="#858585" stroke-width="0.85"/>
<rect x="238.30" y="544.50" width="22.40" height="82.10" fill="#000"/>
<text transform="translate(249.50 530.70) scale(1 0.9)" x="0" y="0" font-size="17.8" font-weight="bold" text-anchor="middle" fill="#000">*</text>
<text x="0" y="0" transform="translate(259.00 635.80) rotate(-45)" font-size="11.0" font-weight="bold" text-anchor="end" fill="#000" stroke="#000" stroke-width="0.3">S2-N</text>
<line x1="281.80" y1="602.70" x2="281.80" y2="607.20" stroke="#858585" stroke-width="0.85"/>
<line x1="276.30" y1="602.70" x2="287.30" y2="602.70" stroke="#858585" stroke-width="0.85"/>
<rect x="270.60" y="607.20" width="22.40" height="19.40" fill="#000"/>
<text transform="translate(281.80 606.20) scale(1 0.9)" x="0" y="0" font-size="17.8" font-weight="bold" text-anchor="middle" fill="#000">**</text>
<text x="0" y="0" transform="translate(291.30 635.80) rotate(-45)" font-size="11.0" font-weight="bold" text-anchor="end" fill="#000" stroke="#000" stroke-width="0.3">S2-2N</text>
<text x="0" y="0" transform="translate(180.20 608.50) rotate(-90)" font-size="9.85" font-weight="bold" text-anchor="start" fill="#000" textLength="122.40" lengthAdjust="spacingAndGlyphs" stroke="#000" stroke-width="0.3">Relative luciferase activity</text>
<text x="329.00" y="456.60" font-size="17.6" font-weight="bold" text-anchor="start" fill="#000">f</text>
<text x="391.70" y="456.30" font-size="15.5" font-weight="bold" text-anchor="middle" fill="#000">PC12</text>
<line x1="346.00" y1="477.30" x2="346.00" y2="625.60" stroke="#505050" stroke-width="1.15"/>
<line x1="345.50" y1="625.10" x2="433.00" y2="625.10" stroke="#505050" stroke-width="1.1"/>
<line x1="343.80" y1="625.10" x2="346.00" y2="625.10" stroke="#505050" stroke-width="1"/>
<text x="343.10" y="628.50" font-size="7.700000000000001" font-weight="bold" text-anchor="end" fill="#000" stroke="#000" stroke-width="0.15">0</text>
<line x1="343.80" y1="588.30" x2="346.00" y2="588.30" stroke="#505050" stroke-width="1"/>
<text x="343.10" y="591.70" font-size="7.700000000000001" font-weight="bold" text-anchor="end" fill="#000" stroke="#000" stroke-width="0.15">2</text>
<line x1="343.80" y1="551.50" x2="346.00" y2="551.50" stroke="#505050" stroke-width="1"/>
<text x="343.10" y="554.90" font-size="7.700000000000001" font-weight="bold" text-anchor="end" fill="#000" stroke="#000" stroke-width="0.15">4</text>
<line x1="343.80" y1="514.70" x2="346.00" y2="514.70" stroke="#505050" stroke-width="1"/>
<text x="343.10" y="518.10" font-size="7.700000000000001" font-weight="bold" text-anchor="end" fill="#000" stroke="#000" stroke-width="0.15">6</text>
<line x1="343.80" y1="477.90" x2="346.00" y2="477.90" stroke="#505050" stroke-width="1"/>
<text x="343.10" y="481.30" font-size="7.700000000000001" font-weight="bold" text-anchor="end" fill="#000" stroke="#000" stroke-width="0.15">8</text>
<line x1="360.60" y1="494.00" x2="360.60" y2="509.60" stroke="#858585" stroke-width="0.85"/>
<line x1="355.10" y1="494.00" x2="366.10" y2="494.00" stroke="#858585" stroke-width="0.85"/>
<rect x="350.70" y="509.60" width="19.80" height="115.80" fill="#000"/>
<text x="0" y="0" transform="translate(367.20 634.30) rotate(-45)" font-size="11.0" font-weight="bold" text-anchor="end" fill="#000" stroke="#000" stroke-width="0.3">S2-2N</text>
<line x1="389.60" y1="557.40" x2="389.60" y2="564.10" stroke="#858585" stroke-width="0.85"/>
<line x1="384.10" y1="557.40" x2="395.10" y2="557.40" stroke="#858585" stroke-width="0.85"/>
<rect x="379.70" y="564.10" width="19.80" height="61.30" fill="#000"/>
<text x="0" y="0" transform="translate(396.10 634.30) rotate(-45)" font-size="11.0" font-weight="bold" text-anchor="end" fill="#000" stroke="#000" stroke-width="0.3">NSE</text>
<line x1="418.90" y1="534.50" x2="418.90" y2="538.20" stroke="#858585" stroke-width="0.85"/>
<line x1="413.40" y1="534.50" x2="424.40" y2="534.50" stroke="#858585" stroke-width="0.85"/>
<rect x="409.00" y="538.20" width="19.80" height="87.20" fill="#000"/>
<text x="0" y="0" transform="translate(426.60 634.30) rotate(-45)" font-size="11.0" font-weight="bold" text-anchor="end" fill="#000" stroke="#000" stroke-width="0.3">Synapsin 1</text>
<text x="0" y="0" transform="translate(333.90 611.50) rotate(-90)" font-size="9.85" font-weight="bold" text-anchor="start" fill="#000" textLength="122.40" lengthAdjust="spacingAndGlyphs" stroke="#000" stroke-width="0.3">Relative luciferase activity</text>
<polyline points="355.30,492.70 355.30,476.00 418.70,476.00 418.70,527.00" fill="none" stroke="#000" stroke-width="1.4"/>
<polyline points="363.00,492.00 363.00,488.80 389.20,488.80 389.20,556.00" fill="none" stroke="#000" stroke-width="1.4"/>
<text transform="translate(385.80 480.60) scale(1 0.9)" x="0" y="0" font-size="17.8" font-weight="bold" text-anchor="middle" fill="#000">*</text>
<text transform="translate(376.60 493.70) scale(1 0.9)" x="0" y="0" font-size="17.8" font-weight="bold" text-anchor="middle" fill="#000">*</text>
<text x="498.00" y="456.40" font-size="15.5" font-weight="bold" text-anchor="middle" fill="#000">NIH3T3</text>
<line x1="454.90" y1="477.30" x2="454.90" y2="625.60" stroke="#505050" stroke-width="1.15"/>
<line x1="454.40" y1="625.10" x2="542.50" y2="625.10" stroke="#505050" stroke-width="1.1"/>
<line x1="452.70" y1="625.10" x2="454.90" y2="625.10" stroke="#505050" stroke-width="1"/>
<text x="452.00" y="628.50" font-size="7.700000000000001" font-weight="bold" text-anchor="end" fill="#000" stroke="#000" stroke-width="0.15">0</text>
<line x1="452.70" y1="592.15" x2="454.90" y2="592.15" stroke="#505050" stroke-width="1"/>
<text x="452.00" y="595.55" font-size="7.700000000000001" font-weight="bold" text-anchor="end" fill="#000" stroke="#000" stroke-width="0.15">2</text>
<line x1="452.70" y1="559.20" x2="454.90" y2="559.20" stroke="#505050" stroke-width="1"/>
<text x="452.00" y="562.60" font-size="7.700000000000001" font-weight="bold" text-anchor="end" fill="#000" stroke="#000" stroke-width="0.15">4</text>
<line x1="452.70" y1="526.25" x2="454.90" y2="526.25" stroke="#505050" stroke-width="1"/>
<text x="452.00" y="529.65" font-size="7.700000000000001" font-weight="bold" text-anchor="end" fill="#000" stroke="#000" stroke-width="0.15">6</text>
<line x1="452.70" y1="493.30" x2="454.90" y2="493.30" stroke="#505050" stroke-width="1"/>
<text x="452.00" y="496.70" font-size="7.700000000000001" font-weight="bold" text-anchor="end" fill="#000" stroke="#000" stroke-width="0.15">8</text>
<rect x="459.90" y="624.30" width="19.90" height="1.10" fill="#000"/>
<text x="0" y="0" transform="translate(477.35 634.80) rotate(-45)" font-size="11.0" font-weight="bold" text-anchor="end" fill="#000" stroke="#000" stroke-width="0.3">S2-2N</text>
<line x1="499.05" y1="489.20" x2="499.05" y2="494.20" stroke="#858585" stroke-width="0.85"/>
<line x1="493.55" y1="489.20" x2="504.55" y2="489.20" stroke="#858585" stroke-width="0.85"/>
<rect x="489.10" y="494.20" width="19.90" height="131.20" fill="#000"/>
<text x="0" y="0" transform="translate(506.85 634.80) rotate(-45)" font-size="11.0" font-weight="bold" text-anchor="end" fill="#000" stroke="#000" stroke-width="0.3">NSE</text>
<line x1="528.15" y1="594.00" x2="528.15" y2="597.20" stroke="#858585" stroke-width="0.85"/>
<line x1="522.65" y1="594.00" x2="533.65" y2="594.00" stroke="#858585" stroke-width="0.85"/>
<rect x="518.20" y="597.20" width="19.90" height="28.20" fill="#000"/>
<text x="0" y="0" transform="translate(536.95 634.80) rotate(-45)" font-size="11.0" font-weight="bold" text-anchor="end" fill="#000" stroke="#000" stroke-width="0.3">Synapsin 1</text>
<text x="0" y="0" transform="translate(442.90 610.90) rotate(-90)" font-size="9.85" font-weight="bold" text-anchor="start" fill="#000" textLength="122.40" lengthAdjust="spacingAndGlyphs" stroke="#000" stroke-width="0.3">Relative luciferase activity</text>
<polyline points="465.90,622.00 465.90,469.40 530.00,469.40 530.00,588.50" fill="none" stroke="#000" stroke-width="1.4"/>
<polyline points="472.80,622.00 472.80,480.60 498.90,480.60 498.90,486.50" fill="none" stroke="#000" stroke-width="1.4"/>
<text transform="translate(495.40 473.60) scale(1 0.9)" x="0" y="0" font-size="17.8" font-weight="bold" text-anchor="middle" fill="#000">**</text>
<text transform="translate(486.40 485.30) scale(1 0.9)" x="0" y="0" font-size="17.8" font-weight="bold" text-anchor="middle" fill="#000">**</text>
</svg>
</body>
</html>
